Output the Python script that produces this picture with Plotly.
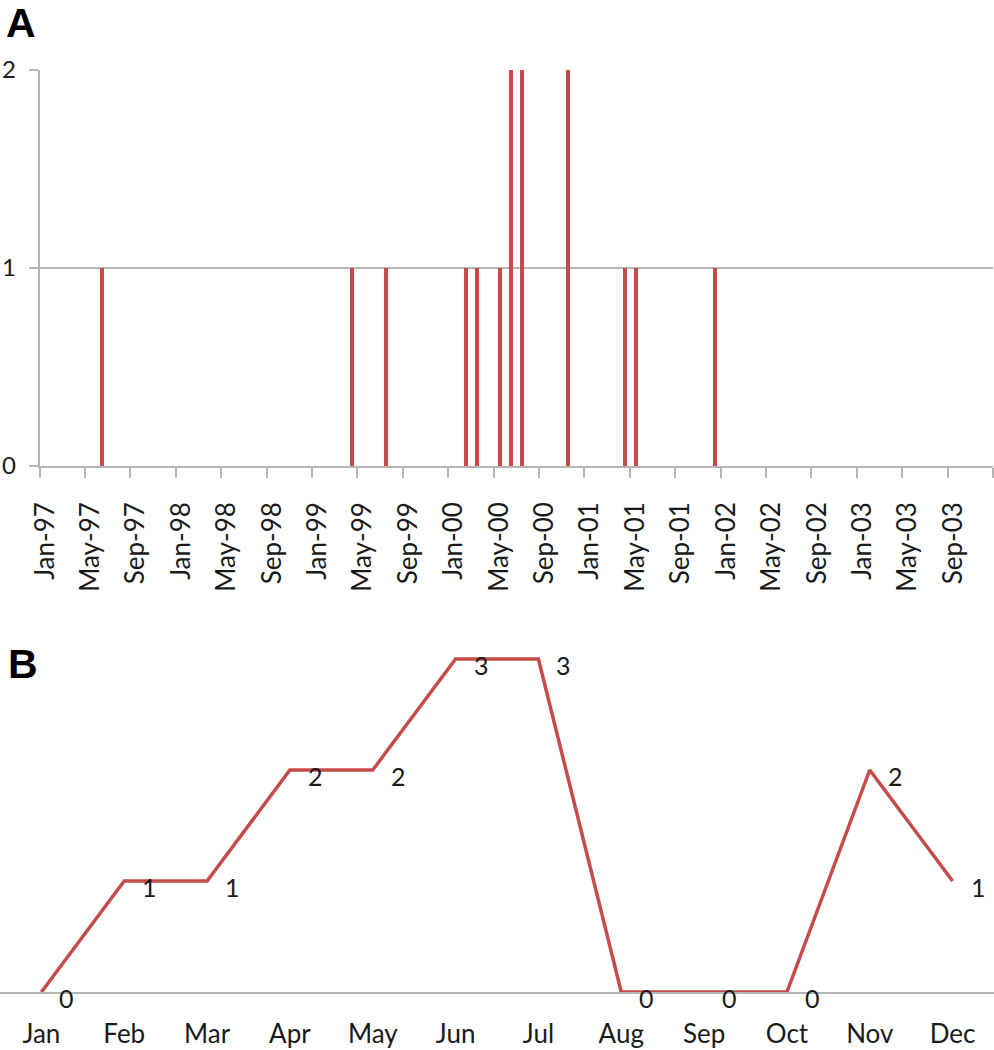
import plotly.graph_objects as go

# ---------------- Data ----------------
# Panel A: monthly categories Jan-97 .. Dec-03
month_names = ["Jan", "Feb", "Mar", "Apr", "May", "Jun",
               "Jul", "Aug", "Sep", "Oct", "Nov", "Dec"]
years = ["97", "98", "99", "00", "01", "02", "03"]
all_months = [f"{m}-{y}" for y in years for m in month_names]

event_months = ["Jun-97", "Apr-99", "Jul-99", "Feb-00", "Mar-00", "May-00",
                "Jun-00", "Jul-00", "Nov-00", "Apr-01", "May-01", "Dec-01"]
event_counts = [1, 1, 1, 1, 1, 1, 2, 2, 2, 1, 1, 1]

# Panel B: totals by calendar month
months_b = ["Jan", "Feb", "Mar", "Apr", "May", "Jun",
            "Jul", "Aug", "Sep", "Oct", "Nov", "Dec"]
totals_b = [0, 1, 1, 2, 2, 3, 3, 0, 0, 0, 2, 1]

RED = "#C64B4B"
GRID = "#B5B5B5"
TXT = "#1a1a1a"
FONT = "Lato"

W, H = 994, 1050

fig = go.Figure()

fig.add_trace(go.Bar(
    x=event_months, y=event_counts, width=0.35,
    marker=dict(color=RED, line=dict(width=0)),
    xaxis="x", yaxis="y", showlegend=False, hoverinfo="x+y",
))

fig.add_trace(go.Scatter(
    x=months_b, y=totals_b, mode="lines",
    line=dict(color=RED, width=3.5),
    xaxis="x2", yaxis="y2", showlegend=False, cliponaxis=False,
))

annotations = []
for m, v in zip(months_b, totals_b):
    annotations.append(dict(
        x=m, y=v, xref="x2", yref="y2", text=str(v), showarrow=False,
        xanchor="left", yanchor="middle", xshift=16, yshift=-6,
        font=dict(family=FONT, size=25, color=TXT),
    ))

annotations.append(dict(
    x=4 / W, y=1 - 23 / H, xref="paper", yref="paper", text="<b>A</b>",
    showarrow=False, xanchor="left", yanchor="middle",
    font=dict(family="Liberation Sans", size=41, color="#000"),
))
annotations.append(dict(
    x=6 / W, y=1 - 664 / H, xref="paper", yref="paper", text="<b>B</b>",
    showarrow=False, xanchor="left", yanchor="middle",
    font=dict(family="Liberation Sans", size=41, color="#000"),
))

fig.update_layout(
    template="none",
    width=W, height=H,
    margin=dict(l=0, r=0, t=0, b=0, autoexpand=False),
    paper_bgcolor="white", plot_bgcolor="white",
    font=dict(family=FONT, color=TXT),
    bargap=0,
    xaxis=dict(
        domain=[39.5 / W, 993 / W], anchor="y", automargin=False,
        type="category", categoryorder="array", categoryarray=all_months,
        range=[-0.5, 83.5], tickmode="linear", tick0=0, dtick=4,
        tickson="boundaries", ticks="outside", ticklen=10,
        tickcolor=GRID, tickwidth=1.5,
        showline=True, linecolor=GRID, linewidth=1.5,
        showgrid=False, zeroline=False,
        tickangle=-90, tickfont=dict(family=FONT, size=26, color=TXT),
        ticklabelstandoff=24,
    ),
    yaxis=dict(
        domain=[1 - 466 / H, 1 - 70 / H], anchor="x", automargin=False,
        range=[0, 2], tickmode="linear", tick0=0, dtick=1,
        showgrid=True, gridcolor=GRID, gridwidth=1.5,
        showline=True, linecolor=GRID, linewidth=1.5,
        ticks="outside", ticklen=9, tickcolor=GRID, tickwidth=1.5,
        zeroline=False, tickfont=dict(family=FONT, size=24, color=TXT),
        ticklabelstandoff=8,
    ),
    xaxis2=dict(
        domain=[0, 1], anchor="y2", automargin=False,
        type="category", range=[-0.5, 11.5],
        showline=True, linecolor=GRID, linewidth=1.5,
        ticks="", showgrid=False, zeroline=False,
        tickfont=dict(family=FONT, size=26, color=TXT),
        ticklabelstandoff=18,
    ),
    yaxis2=dict(
        domain=[1 - 992 / H, 1 - 992 / H + 3.3 * 111 / H], anchor="x2",
        automargin=False, range=[0, 3.3], visible=False,
    ),
    annotations=annotations,
)

fig.write_html(
    "out.html",
    config={"displayModeBar": False},
    post_script="document.body.style.margin='0';document.body.style.overflow='hidden';",
)
